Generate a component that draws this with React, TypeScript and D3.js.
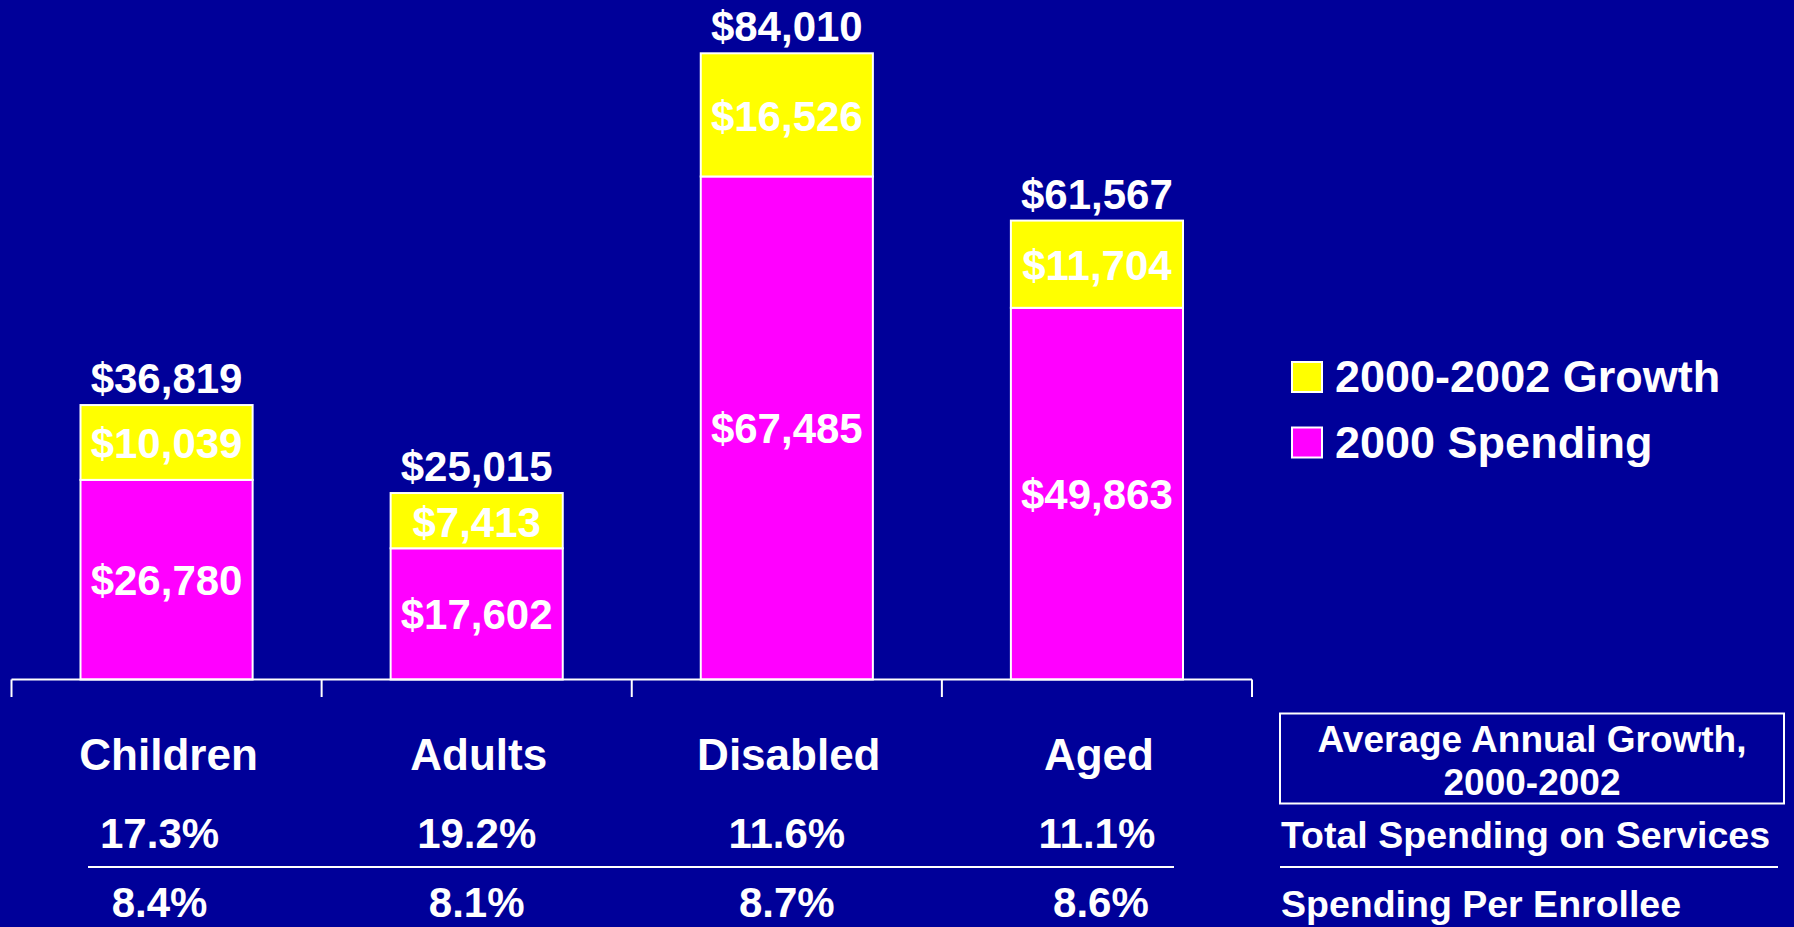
import React, { useEffect, useRef } from "react";
import * as d3 from "d3";

const categories = ["Children", "Adults", "Disabled", "Aged"];
const spending2000 = [26780, 17602, 67485, 49863];
const growth = [10039, 7413, 16526, 11704];
const totals = [36819, 25015, 84010, 61567];
const totalGrowthPct = ["17.3%", "19.2%", "11.6%", "11.1%"];
const perEnrolleePct = ["8.4%", "8.1%", "8.7%", "8.6%"];
const seriesNames = ["2000-2002 Growth", "2000 Spending"];

const FONT = "'Liberation Sans', Arial, Helvetica, sans-serif";
const BG = "#000099";
const YELLOW = "#ffff00";
const MAGENTA = "#ff00ff";

function fmt(v: number) {
  return "$" + d3.format(",")(v);
}

export default function App() {
  const svgRef = useRef<SVGSVGElement | null>(null);

  useEffect(() => {
    const width = 1794;
    const height = 927;
    const baseY = 679.5;

    const svg = d3.select(svgRef.current);
    svg.selectAll("*").remove();
    svg.attr("width", width).attr("height", height);

    svg.append("rect").attr("width", width).attr("height", height).attr("fill", BG);

    const x = d3.scaleBand().domain(categories).range([11.5, 1252]).padding(0);
    const y = d3.scaleLinear().domain([0, 84010]).range([baseY, 53.3]);
    const bw = x.bandwidth();
    const barW = bw * 0.555;
    const barX = (c: string) => (x(c) as number) + (bw - barW) / 2;
    const cx = (c: string) => (x(c) as number) + bw / 2;

    const rows = categories.map((c, i) => ({
      c,
      base: spending2000[i],
      grow: growth[i],
      total: totals[i],
    }));

    // 2000 spending segment
    svg
      .selectAll("rect.base")
      .data(rows)
      .enter()
      .append("rect")
      .attr("class", "base")
      .attr("x", (d) => barX(d.c))
      .attr("y", (d) => y(d.base))
      .attr("width", barW)
      .attr("height", (d) => baseY - y(d.base))
      .attr("fill", MAGENTA)
      .attr("stroke", "#ffffff")
      .attr("stroke-width", 2);

    // growth segment
    svg
      .selectAll("rect.grow")
      .data(rows)
      .enter()
      .append("rect")
      .attr("class", "grow")
      .attr("x", (d) => barX(d.c))
      .attr("y", (d) => y(d.total))
      .attr("width", barW)
      .attr("height", (d) => y(d.base) - y(d.total))
      .attr("fill", YELLOW)
      .attr("stroke", "#ffffff")
      .attr("stroke-width", 2);

    const label = (sel: any) =>
      sel
        .attr("text-anchor", "middle")
        .attr("fill", "#ffffff")
        .style("font-family", FONT)
        .style("font-weight", "bold");

    // segment labels
    svg
      .selectAll("text.baseLbl")
      .data(rows)
      .enter()
      .append("text")
      .call(label)
      .attr("x", (d) => cx(d.c))
      .attr("y", (d) => (y(d.base) + baseY) / 2 + 15)
      .style("font-size", "42px")
      .text((d) => fmt(d.base));

    svg
      .selectAll("text.growLbl")
      .data(rows)
      .enter()
      .append("text")
      .call(label)
      .attr("x", (d) => cx(d.c))
      .attr("y", (d) => (y(d.base) + y(d.total)) / 2 + 16)
      .style("font-size", "42px")
      .text((d) => fmt(d.grow));

    svg
      .selectAll("text.totalLbl")
      .data(rows)
      .enter()
      .append("text")
      .call(label)
      .attr("x", (d) => cx(d.c))
      .attr("y", (d) => y(d.total) - 12)
      .style("font-size", "42px")
      .text((d) => fmt(d.total));

    // axis line and ticks
    const axis = svg.append("g").attr("stroke", "#ffffff").attr("stroke-width", 2);
    axis.append("line").attr("x1", 11.5).attr("x2", 1252).attr("y1", baseY).attr("y2", baseY);
    const tickXs = categories.map((c) => x(c) as number).concat([1252]);
    axis
      .selectAll("line.tick")
      .data(tickXs)
      .enter()
      .append("line")
      .attr("x1", (d) => d)
      .attr("x2", (d) => d)
      .attr("y1", baseY)
      .attr("y2", 697);

    // category labels
    svg
      .selectAll("text.cat")
      .data(categories)
      .enter()
      .append("text")
      .call(label)
      .attr("x", (d) => cx(d) + 2)
      .attr("y", 770)
      .style("font-size", "44px")
      .text((d) => d);

    // growth rows
    svg
      .selectAll("text.pct1")
      .data(totalGrowthPct)
      .enter()
      .append("text")
      .call(label)
      .attr("x", (d, i) => cx(categories[i]) - (i === 0 ? 7 : 0))
      .attr("y", 848)
      .style("font-size", "42px")
      .text((d) => d);

    svg
      .selectAll("text.pct2")
      .data(perEnrolleePct)
      .enter()
      .append("text")
      .call(label)
      .attr("x", (d, i) => cx(categories[i]) - (i === 0 ? 7 : 0) + (i === 3 ? 4 : 0))
      .attr("y", 917)
      .style("font-size", "42px")
      .text((d) => d);

    svg
      .append("line")
      .attr("x1", 88)
      .attr("x2", 1174)
      .attr("y1", 867)
      .attr("y2", 867)
      .attr("stroke", "#ffffff")
      .attr("stroke-width", 2);

    // legend
    const legendColors = [YELLOW, MAGENTA];
    const legend = svg
      .selectAll("g.legend")
      .data(seriesNames)
      .enter()
      .append("g")
      .attr("transform", (d, i) => `translate(1292,${362 + i * 65.5})`);
    legend
      .append("rect")
      .attr("width", 30)
      .attr("height", 30)
      .attr("fill", (d, i) => legendColors[i])
      .attr("stroke", "#ffffff")
      .attr("stroke-width", 2);
    legend
      .append("text")
      .attr("x", 43)
      .attr("y", 30)
      .attr("fill", "#ffffff")
      .style("font-family", FONT)
      .style("font-weight", "bold")
      .style("font-size", "45px")
      .text((d) => d);

    // row header box
    svg
      .append("rect")
      .attr("x", 1280)
      .attr("y", 713.5)
      .attr("width", 504)
      .attr("height", 90)
      .attr("fill", "none")
      .attr("stroke", "#ffffff")
      .attr("stroke-width", 2);

    svg
      .append("text")
      .call(label)
      .attr("x", 1532)
      .attr("y", 751.5)
      .style("font-size", "37px")
      .text("Average Annual Growth,");
    svg
      .append("text")
      .call(label)
      .attr("x", 1532)
      .attr("y", 795)
      .style("font-size", "37px")
      .text("2000-2002");

    svg
      .append("text")
      .attr("x", 1281)
      .attr("y", 848)
      .attr("fill", "#ffffff")
      .style("font-family", FONT)
      .style("font-weight", "bold")
      .style("font-size", "37.5px")
      .text("Total Spending on Services");

    svg
      .append("line")
      .attr("x1", 1280)
      .attr("x2", 1778)
      .attr("y1", 867)
      .attr("y2", 867)
      .attr("stroke", "#ffffff")
      .attr("stroke-width", 2);

    svg
      .append("text")
      .attr("x", 1281)
      .attr("y", 916.5)
      .attr("fill", "#ffffff")
      .style("font-family", FONT)
      .style("font-weight", "bold")
      .style("font-size", "37.5px")
      .text("Spending Per Enrollee");
  }, []);

  return (
    <div style={{ position: "fixed", left: 0, top: 0, width: 1794, height: 927, overflow: "hidden", background: BG }}>
      <svg ref={svgRef} style={{ display: "block" }}></svg>
    </div>
  );
}
